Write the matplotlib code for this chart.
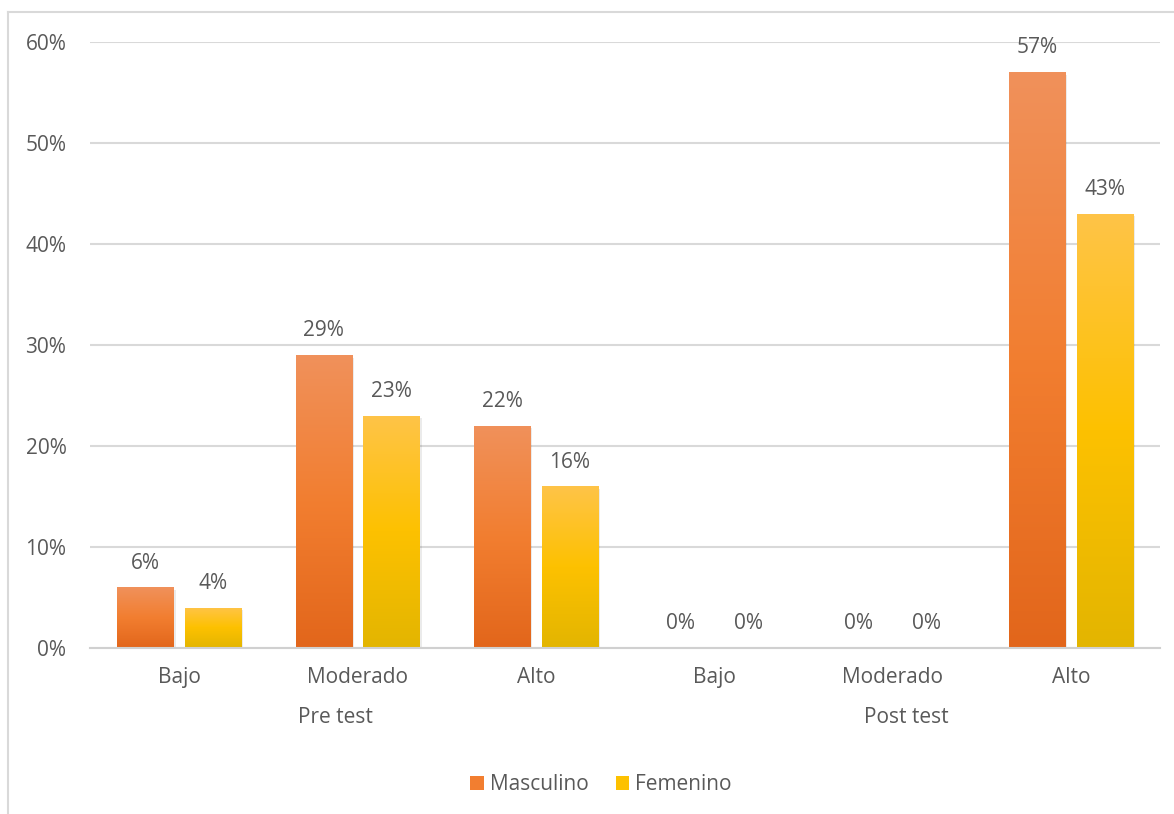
import numpy as np
import matplotlib
matplotlib.use("Agg")
import matplotlib.pyplot as plt
from matplotlib.colors import LinearSegmentedColormap
from matplotlib.lines import Line2D
from matplotlib.patches import Patch

# data
niveles = ["Bajo", "Moderado", "Alto", "Bajo", "Moderado", "Alto"]
fases = ["Pre test", "Post test"]
masculino = [6, 29, 22, 0, 0, 57]
femenino = [4, 23, 16, 0, 0, 43]
series = ["Masculino", "Femenino"]

plt.rcParams['font.family'] = ['Open Sans', 'DejaVu Sans']
txt = '#595959'
grid = '#D9D9D9'
fs = 15

orange = LinearSegmentedColormap.from_list('o', ['#E2661B', '#F27E30', '#F0915B'])
yellow = LinearSegmentedColormap.from_list('y', ['#E3B500', '#FDC100', '#FFC448'])

fig = plt.figure(figsize=(11.74, 8.14), dpi=100)
ax = fig.add_axes([90/1174, 1 - 648/814, 1070/1174, 606/814])

# outer chart border (left and top visible)
fig.add_artist(Line2D([8/1174, 8/1174], [0, 1 - 12/814], color=grid, lw=1.5))
fig.add_artist(Line2D([8/1174, 1], [1 - 12/814, 1 - 12/814], color=grid, lw=1.5))

x = np.arange(len(niveles))
w = 0.315
off = 0.19

def gradient_bars(vals, pos, cmap, label):
    bars = ax.bar(pos, vals, w, color=cmap(0.5), label=label, zorder=3)
    grad = np.linspace(0, 1, 256).reshape(-1, 1)
    for b in bars:
        h = b.get_height()
        if h <= 0:
            continue
        x0 = b.get_x()
        # soft shadow
        ax.bar(x0 + w / 2 + 0.012, h, w, bottom=-0.25, color='#000000', alpha=0.08, zorder=2, lw=0)
        im = ax.imshow(grad, cmap=cmap, origin='lower', aspect='auto',
                       extent=[x0, x0 + w, 0, h], zorder=4)
        im.set_clip_path(b)
    for b, v in zip(bars, vals):
        ax.annotate(f"{v}%", (b.get_x() + w / 2, v), xytext=(0, 10),
                    textcoords='offset points', ha='center', va='bottom',
                    fontsize=fs, color=txt)
    return bars

gradient_bars(masculino, x - off, orange, series[0])
gradient_bars(femenino, x + off, yellow, series[1])

ax.set_xlim(-0.5, len(niveles) - 0.5)
ax.set_ylim(0, 60)
ax.set_yticks(range(0, 61, 10))
ax.set_yticklabels([f"{t}%" for t in range(0, 61, 10)])
ax.set_xticks(x)
ax.set_xticklabels(niveles)
ax.tick_params(axis='both', length=0, labelsize=fs, colors=txt)
ax.tick_params(axis='y', pad=17)
ax.tick_params(axis='x', pad=14)
ax.yaxis.grid(True, color=grid, lw=1.5, zorder=0)
ax.set_axisbelow(True)
for s in ['top', 'right', 'left']:
    ax.spines[s].set_visible(False)
ax.spines['bottom'].set_color('#D0D0D0')
ax.spines['bottom'].set_linewidth(1.5)
ax.spines['bottom'].set_zorder(5)

# second level of category labels
ax.text(0.876, -0.098, fases[0], transform=ax.get_xaxis_transform(),
        ha='center', va='top', fontsize=fs, color=txt)
ax.text(4.08, -0.098, fases[1], transform=ax.get_xaxis_transform(),
        ha='center', va='top', fontsize=fs, color=txt)

handles = [Patch(facecolor='#F27E30'), Patch(facecolor='#FDC100')]
fig.legend(handles, series, loc='center', bbox_to_anchor=(601/1174, 1 - 785/814),
           ncol=2, frameon=False, fontsize=fs, labelcolor=txt,
           handlelength=0.65, handleheight=0.65, handletextpad=0.3, columnspacing=1.3)

fig.savefig("out.png", dpi=100, facecolor='white')
